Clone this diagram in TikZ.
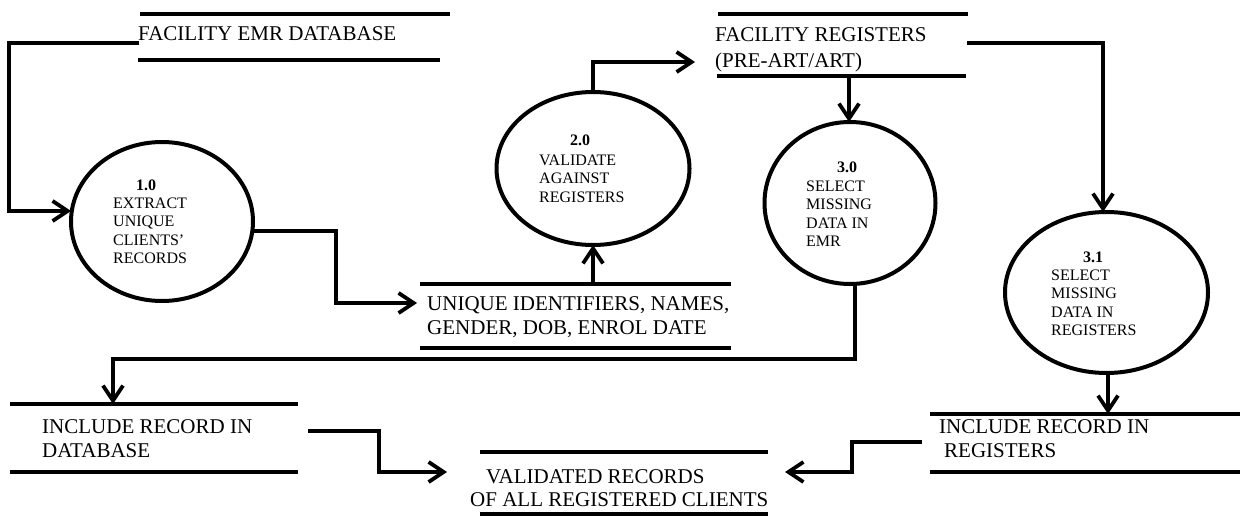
\documentclass[tikz,border=0pt]{standalone}
\usepackage{fontspec}
\setmainfont{Liberation Serif}
\usetikzlibrary{arrows.meta,shapes.geometric,calc}
\begin{document}
\begin{tikzpicture}[x=1pt,y=-1pt,
  flow/.style={line width=3.8pt,-{Straight Barb[length=15pt,width=20pt,line width=3.8pt]}},
  storeline/.style={line width=4pt},
  proc/.style={ellipse,draw,line width=4pt,inner sep=0pt,outer sep=0pt},
  st/.style={inner sep=0pt,anchor=base west,font=\fontsize{21}{24}\selectfont},
  pt/.style={inner sep=0pt,anchor=base west,font=\fontsize{16}{18}\selectfont},
  ptb/.style={pt,font=\fontsize{16}{18}\selectfont\bfseries}
]
\useasboundingbox (0,0) rectangle (1240,516);

% ---------- data stores ----------
% Facility EMR database
\draw[storeline] (140,14) -- (450,14);
\draw[storeline] (138,60) -- (440,60);
\node[st] (emrt) at (138,41) {FACILITY EMR DATABASE};
\coordinate (emrL) at (139,43);

% Facility registers
\draw[storeline] (718,14) -- (968,14);
\draw[storeline] (717,76) -- (966,76);
\node[st] (regt1) at (715,42) {FACILITY REGISTERS};
\node[st] (regt2) at (715,68) {(PRE-ART/ART)};
\coordinate (regR) at (967,43);
\coordinate (regB) at (849,76);
\coordinate (regIn) at (695,62);

% Unique identifiers
\draw[storeline] (420,284) -- (731,284);
\draw[storeline] (420,348) -- (731,348);
\node[st] (uidt1) at (427,310) {UNIQUE IDENTIFIERS, NAMES,};
\node[st] (uidt2) at (427,334) {GENDER, DOB, ENROL DATE};
\coordinate (uidIn) at (417,303);
\coordinate (uidT) at (0,284);

% Include record in database
\draw[storeline] (10,404) -- (298,404);
\draw[storeline] (10,472) -- (298,472);
\node[st] (idbt1) at (42,433) {INCLUDE RECORD IN};
\node[st] (idbt2) at (42,457) {DATABASE};
\coordinate (idbIn) at (113,404);
\coordinate (idbOut) at (308,431);

% Include record in registers
\draw[storeline] (930,414) -- (1240,414);
\draw[storeline] (930,472) -- (1240,472);
\node[st] (irgt1) at (939,433) {INCLUDE RECORD IN};
\node[st] (irgt2) at (944,457) {REGISTERS};
\coordinate (irgIn) at (1108,414);
\coordinate (irgOut) at (922,442);

% Validated records
\draw[storeline] (480,452) -- (768,452);
\draw[storeline] (480,514) -- (768,514);
\node[st] (valt1) at (486,483) {VALIDATED RECORDS};
\node[st] (valt2) at (470,506) {OF ALL REGISTERED CLIENTS};
\coordinate (valL) at (447,472);
\coordinate (valR) at (785,472);

% ---------- processes ----------
\node[proc,minimum width=182pt,minimum height=159pt] (p1) at (162,221.5) {};
\node[ptb] (p1n) at (136,190) {1.0};
\node[pt] (p1a) at (113,208) {EXTRACT};
\node[pt] (p1b) at (113,226.5) {UNIQUE};
\node[pt] (p1c) at (113,245) {CLIENTS’};
\node[pt] (p1d) at (113,263.5) {RECORDS};

\node[proc,minimum width=193pt,minimum height=153pt] (p2) at (593,168.5) {};
\node[ptb] (p2n) at (570,146) {2.0};
\node[pt] (p2a) at (539,165) {VALIDATE};
\node[pt] (p2b) at (539,183.5) {AGAINST};
\node[pt] (p2c) at (539,202) {REGISTERS};

\node[proc,minimum width=171pt,minimum height=162pt] (p3) at (850,203) {};
\node[ptb] (p3n) at (837,173) {3.0};
\node[pt] (p3a) at (806,191) {SELECT};
\node[pt] (p3b) at (806,209.5) {MISSING};
\node[pt] (p3c) at (806,228) {DATA IN};
\node[pt] (p3d) at (806,246.5) {EMR};

\node[proc,minimum width=203pt,minimum height=161pt] (p31) at (1106.5,292.5) {};
\node[ptb] (p31n) at (1083,262) {3.1};
\node[pt] (p31a) at (1051,280) {SELECT};
\node[pt] (p31b) at (1051,298.5) {MISSING};
\node[pt] (p31c) at (1051,317) {DATA IN};
\node[pt] (p31d) at (1051,335.5) {REGISTERS};

% ---------- flows ----------
\draw[flow] (emrL) -- (9,43) -- (9,211) -- (p1.west |- 0,211);
\draw[flow] (p1.east |- 0,231) -- (336,231) -- (336,303) -- (uidIn);
\draw[flow] (p2.south |- uidT) -- (p2.south);
\draw[flow] (p2.north) -- (p2.north |- regIn) -- (regIn);
\draw[flow] (regB) -- (regB |- p3.north);
\draw[flow] (regR) -- (1103,43) -- (1103,212);
\draw[flow] (855,284) -- (855,359) -- (113,359) -- (idbIn);
\draw[flow] (1108,373) -- (irgIn);
\draw[flow] (idbOut) -- (379,431) -- (379,472) -- (valL);
\draw[flow] (irgOut) -- (852,442) -- (852,472) -- (valR);
\end{tikzpicture}
\end{document}
